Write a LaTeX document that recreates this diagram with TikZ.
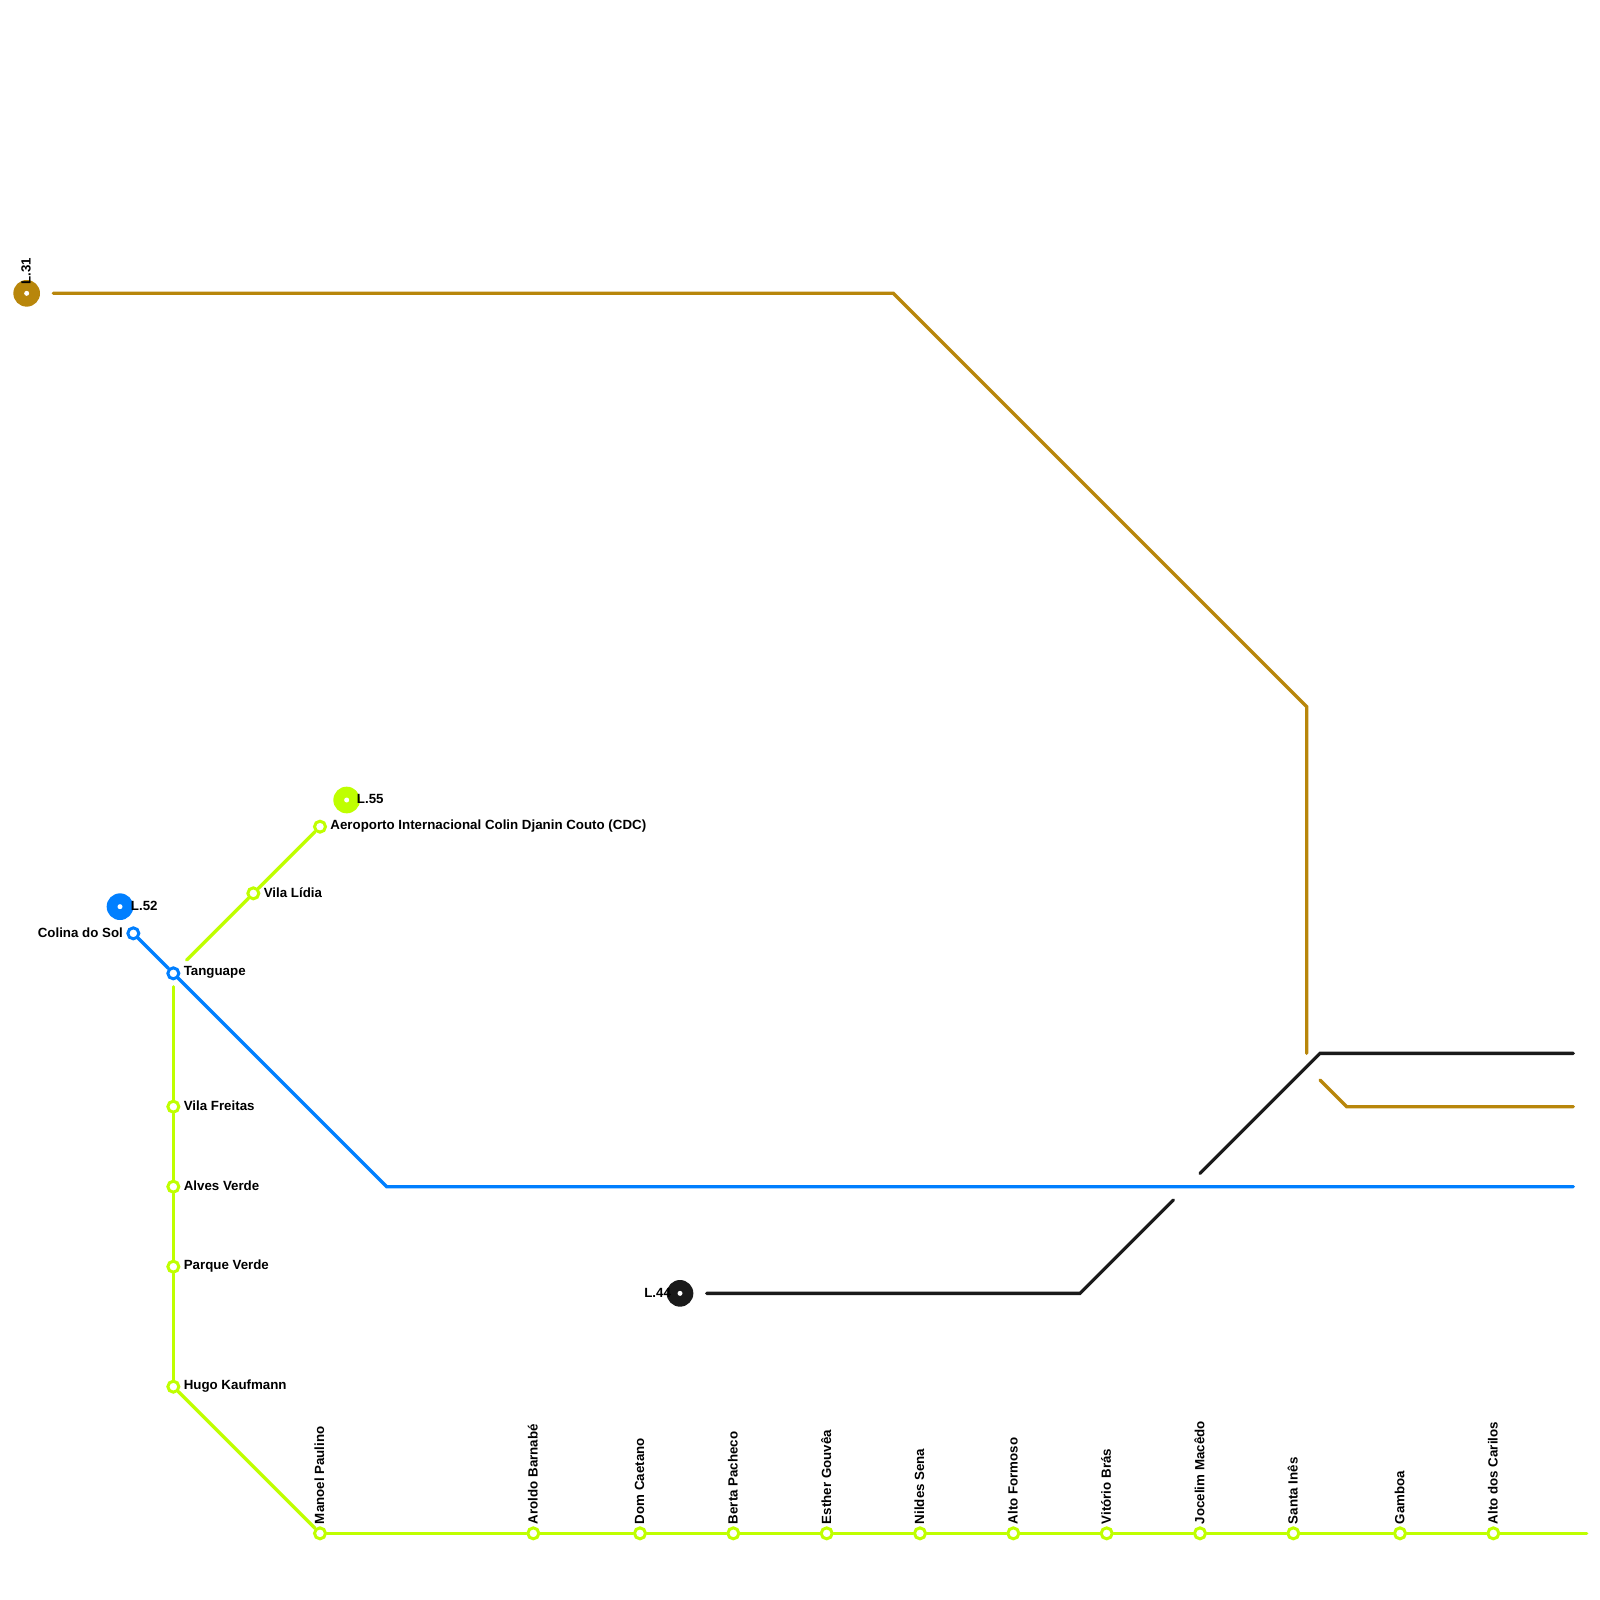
\documentclass[tikz,border=0pt]{standalone}
\usepackage{fontspec}
\setmainfont{Liberation Sans}
\definecolor{brownline}{HTML}{B8860B}
\definecolor{blueline}{HTML}{007FFF}
\definecolor{limeline}{HTML}{BFFF00}
\definecolor{blackline}{HTML}{1A1A1A}
\begin{document}
\begin{tikzpicture}
[x=0.2cm, y=-0.2cm, font=\fontsize{5.68}{6}\selectfont\bfseries, label distance=0.045cm]
\tikzstyle{every label}=[inner sep=0mm, text=black, yshift=0.012cm]
\tikzstyle{station}=[circle, draw, fill=white, line width=0.045cm, inner sep=0mm, minimum size=0.165cm]
\tikzstyle{terminal}=[circle, inner sep=0mm, minimum size=0.4cm]
\tikzstyle{hole}=[circle, fill=white, inner sep=0mm, minimum size=0.075cm]
\tikzstyle{route}=[line width=0.05cm, line cap=round, line join=miter]
\tikzstyle{upright}=[rotate=90, anchor=west, yshift=-0.037cm, xshift=0.015cm]
\useasboundingbox (0,0) rectangle (120,120);

\node[terminal, fill=brownline]	(L31)	at (2,22)	[label={[upright, xshift=-0.105cm]above:L.31}]	{};
\node[terminal, fill=blackline]	(L44)	at (51,97)	[label={[xshift=0.123cm]left:L.44}]	{};
\node[terminal, fill=blueline]	(L52)	at (9,68)	[label={[xshift=-0.095cm]right:L.52}]	{};
\node[terminal, fill=limeline]	(L55)	at (26,60)	[label={[xshift=-0.105cm]right:L.55}]	{};
\node[hole]	(H31)	at (L31)	{};
\node[hole]	(H44)	at (L44)	{};
\node[hole]	(H52)	at (L52)	{};
\node[hole]	(H55)	at (L55)	{};

% blue
\node[station, draw=blueline]	(Colina)	at (10,70)	[label=left:{Colina do Sol}]	{};
\node[station, draw=blueline]	(Tanguape)	at (13,73)	[label=right:{Tanguape}]	{};

% lime, left side
\node[station, draw=limeline]	(Aeroporto)	at (24,62)	[label=right:{Aeroporto Internacional Colin Djanin Couto (CDC)}]	{};
\node[station, draw=limeline]	(Lidia)	at (19,67)	[label=right:{Vila Lídia}]	{};
\node[station, draw=limeline]	(Freitas)	at (13,83)	[label=right:{Vila Freitas}]	{};
\node[station, draw=limeline]	(Alves)	at (13,89)	[label=right:{Alves Verde}]	{};
\node[station, draw=limeline]	(Parque)	at (13,95)	[label=right:{Parque Verde}]	{};
\node[station, draw=limeline]	(Hugo)	at (13,104)	[label=right:{Hugo Kaufmann}]	{};

% lime, bottom row
\foreach \name/\px/\txt in {Manoel/24/Manoel Paulino, Aroldo/40/Aroldo Barnabé, Dom/48/Dom Caetano,
	Berta/55/Berta Pacheco, Esther/62/Esther Gouvêa, Nildes/69/Nildes Sena, Formoso/76/Alto Formoso,
	Vitorio/83/Vitório Brás, Jocelim/90/Jocelim Macêdo, Santa/97/Santa Inês, Gamboa/105/Gamboa, Carilos/112/Alto dos Carilos}
	\node[station, draw=limeline]	(\name)	at (\px,115)	[label={[upright]above:\txt}]	{};

\coordinate (B0) at (4,22);
\coordinate (B1) at (67,22);
\coordinate (B2) at (98,53);
\coordinate (B3) at (98,79);
\coordinate (B4) at (99,81);
\coordinate (B5) at (101,83);
\coordinate (B6) at (118,83);
\coordinate (K0) at (53,97);
\coordinate (K1) at (81,97);
\coordinate (K2) at (88,90);
\coordinate (K3) at (90,88);
\coordinate (K4) at (99,79);
\coordinate (K5) at (118,79);
\coordinate (U1) at (29,89);
\coordinate (U2) at (118,89);
\coordinate (G0) at (14,72);
\coordinate (G1) at (13,74);
\coordinate (G2) at (119,115);

\draw [route, brownline] (B0)--(B1)--(B2)--(B3);
\draw [route, brownline] (B4)--(B5)--(B6);
\draw [route, blackline] (K0)--(K1)--(K2);
\draw [route, blackline] (K3)--(K4)--(K5);
\draw [route, blueline] (Colina)--(Tanguape);
\draw [route, blueline] (Tanguape)--(U1)--(U2);
\draw [route, limeline] (G0)--(Lidia);
\draw [route, limeline] (Lidia)--(Aeroporto);
\draw [route, limeline] (G1)--(Freitas);
\draw [route, limeline] (Freitas)--(Alves);
\draw [route, limeline] (Alves)--(Parque);
\draw [route, limeline] (Parque)--(Hugo);
\draw [route, limeline] (Hugo)--(Manoel);
\draw [route, limeline] (Manoel)--(Aroldo);
\draw [route, limeline] (Aroldo)--(Dom);
\draw [route, limeline] (Dom)--(Berta);
\draw [route, limeline] (Berta)--(Esther);
\draw [route, limeline] (Esther)--(Nildes);
\draw [route, limeline] (Nildes)--(Formoso);
\draw [route, limeline] (Formoso)--(Vitorio);
\draw [route, limeline] (Vitorio)--(Jocelim);
\draw [route, limeline] (Jocelim)--(Santa);
\draw [route, limeline] (Santa)--(Gamboa);
\draw [route, limeline] (Gamboa)--(Carilos);
\draw [route, limeline] (Carilos)--(G2);

\end{tikzpicture}
\end{document}
